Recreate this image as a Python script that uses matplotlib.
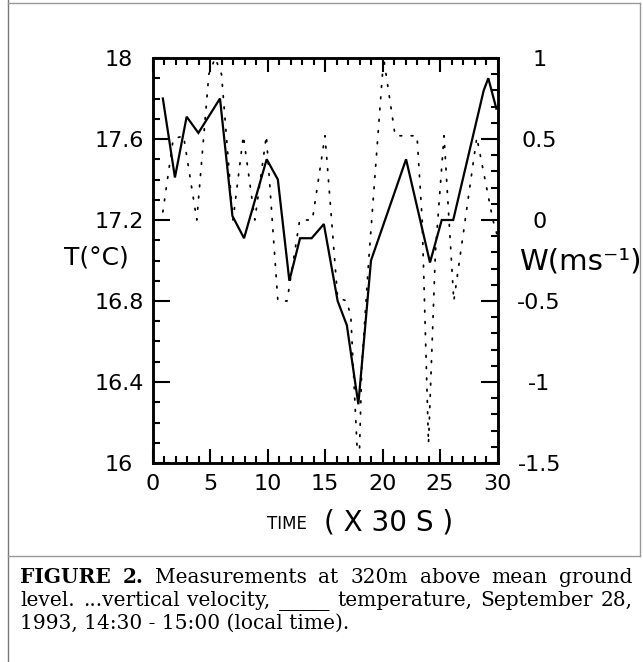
import matplotlib
matplotlib.use("Agg")
import matplotlib.pyplot as plt
from matplotlib.ticker import MultipleLocator, FixedLocator, FixedFormatter
from matplotlib.lines import Line2D

# temperature, solid line (time in units of 30 s)
temp_time = [0.9, 1.95, 2.97, 3.99, 5.87, 6.95, 7.96, 9.93, 10.9, 11.9, 12.83,
             13.84, 14.9, 16.1, 16.9, 17.9, 19.0, 22.05, 24.13, 25.15, 26.15,
             28.8, 29.2, 29.9]
temp_val = [17.80, 17.41, 17.71, 17.63, 17.80, 17.22, 17.11, 17.50, 17.40, 16.90,
            17.11, 17.11, 17.18, 16.80, 16.68, 16.29, 17.00, 17.50, 16.99, 17.20,
            17.20, 17.84, 17.90, 17.75]

# vertical velocity, dotted line
w_time = [0.9, 1.8, 2.7, 3.85, 4.9, 5.45, 6.0, 7.0, 7.9, 8.9, 9.9, 10.9, 11.7,
          12.8, 13.9, 15.0, 16.1, 16.9, 17.25, 17.8, 18.0, 18.2, 18.8, 20.1,
          21.1, 23.0, 23.45, 24.0, 24.6, 25.35, 26.2, 28.2, 29.6, 30.0]
w_val = [0.05, 0.50, 0.52, 0.0, 0.90, 1.0, 0.90, 0.0, 0.52, 0.0, 0.52, -0.50, -0.50,
         0.0, 0.0, 0.52, -0.48, -0.50, -0.60, -1.42, -1.42, -0.90, -0.25, 1.0,
         0.52, 0.52, 0.0, -1.38, -0.20, 0.52, -0.50, 0.51, 0.0, -0.10]

x_ticks = [0, 5, 10, 15, 20, 25, 30]
t_ticks = [16, 16.4, 16.8, 17.2, 17.6, 18]
t_labels = ["16", "16.4", "16.8", "17.2", "17.6", "18"]
w_ticks = [-1.5, -1, -0.5, 0, 0.5, 1]
w_labels = ["-1.5", "-1", "-0.5", "0", "0.5", "1"]

caption = [
    [("FIGURE", "bold"), ("2.", "bold"), ("Measurements", "normal"), ("at", "normal"),
     ("320m", "normal"), ("above", "normal"), ("mean", "normal"), ("ground", "normal")],
    [("level.", "normal"), ("...vertical", "normal"), ("velocity,", "normal"),
     ("_____", "normal"), ("temperature,", "normal"), ("September", "normal"),
     ("28,", "normal")],
]
caption_last = "1993, 14:30 - 15:00 (local time)."

W, H = 643, 662
fig = plt.figure(figsize=(W / 100, H / 100), dpi=100)
ax = fig.add_axes([152.5 / W, 1 - 463 / H, 345 / W, 405 / H])

ax.plot(temp_time, temp_val, color="black", lw=1.6, solid_joinstyle="miter")
ax.set_xlim(0, 30)
ax.set_ylim(16, 18)

ax2 = ax.twinx()
ax2.plot(w_time, w_val, color="black", lw=1.25, linestyle=(0, (1, 5.5)),
         dash_capstyle="round")
ax2.set_ylim(-1.5, 1)

for a in (ax, ax2):
    for s in a.spines.values():
        s.set_linewidth(1.8)

ax.xaxis.set_major_locator(FixedLocator(x_ticks))
ax.xaxis.set_minor_locator(MultipleLocator(1))
ax.yaxis.set_major_locator(FixedLocator(t_ticks))
ax.yaxis.set_major_formatter(FixedFormatter(t_labels))
ax.yaxis.set_minor_locator(MultipleLocator(0.1))
ax.tick_params(which="both", direction="in", top=True, right=False, width=1.5)
ax.tick_params(axis="x", which="major", length=10, pad=8, labelsize=16)
ax.tick_params(axis="x", which="minor", length=5)
ax.tick_params(axis="y", which="major", length=12, pad=24, labelsize=16)
ax.tick_params(axis="y", which="minor", length=5)
for lb in ax.get_yticklabels():
    lb.set_horizontalalignment("center")

ax2.yaxis.set_major_locator(FixedLocator(w_ticks))
ax2.yaxis.set_major_formatter(FixedFormatter(w_labels))
ax2.yaxis.set_minor_locator(MultipleLocator(0.1))
ax2.tick_params(which="both", direction="in", width=1.5)
ax2.tick_params(axis="y", which="major", length=12, pad=30, labelsize=16)
ax2.tick_params(axis="y", which="minor", length=5)
for lb in ax2.get_yticklabels():
    lb.set_horizontalalignment("center")

fig.text(96 / W, 1 - 258 / H, "T(°C)", ha="center", va="center", fontsize=18)
fig.text(580 / W, 1 - 262 / H, "W(ms⁻¹)", ha="center", va="center", fontsize=21)
fig.text(287 / W, 1 - 524 / H, "TIME", ha="center", va="center", fontsize=12)
fig.text(389 / W, 1 - 522 / H, "( X 30 S )", ha="center", va="center", fontsize=20)

# page frame around the figure
fig.add_artist(Line2D([8 / W, 8 / W], [0, 1], color="#777777", lw=1))
fig.add_artist(Line2D([8 / W, 640 / W], [1 - 3 / H, 1 - 3 / H], color="#999999", lw=1))
fig.add_artist(Line2D([640 / W, 640 / W], [1 - 3 / H, 1 - 556 / H], color="#999999", lw=1))
fig.add_artist(Line2D([8 / W, 640 / W], [1 - 556 / H, 1 - 556 / H], color="#999999", lw=1))

# caption, first two lines justified
cap_font = dict(family="DejaVu Serif", size=14.5, va="baseline")
baselines = [583, 606, 629]
x0, x1 = 20, 633
fig.canvas.draw()
r = fig.canvas.get_renderer()
for words, yb in zip(caption, baselines[:2]):
    texts = [fig.text(0, 1 - yb / H, w, fontweight=wt, **cap_font) for w, wt in words]
    widths = [t.get_window_extent(r).width for t in texts]
    gap = (x1 - x0 - sum(widths)) / (len(texts) - 1)
    x = x0
    for t, wd in zip(texts, widths):
        t.set_x(x / W)
        x += wd + gap
fig.text(x0 / W, 1 - baselines[2] / H, caption_last, **cap_font)

fig.savefig("out.png", dpi=100)
